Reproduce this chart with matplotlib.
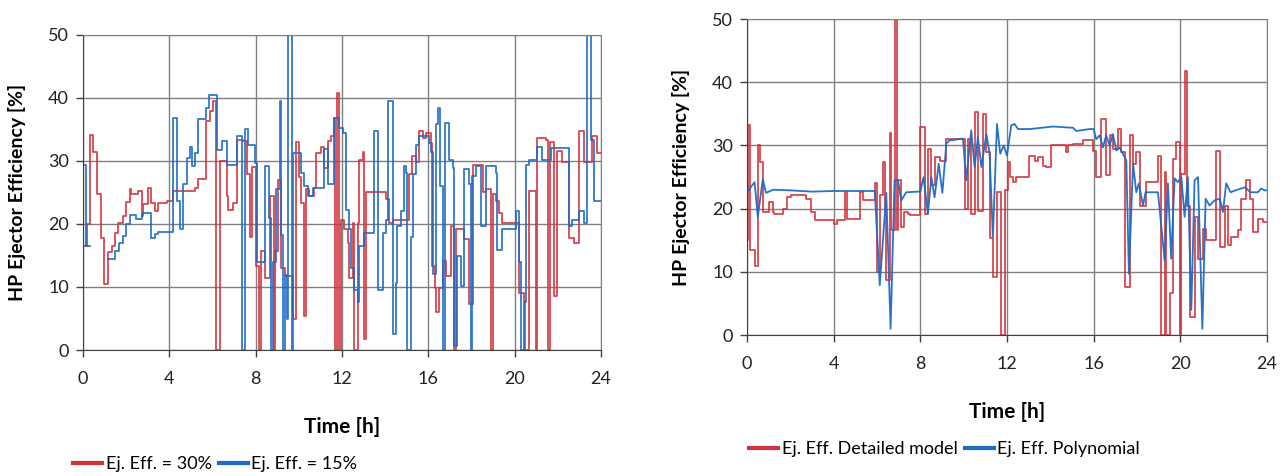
import numpy as np
import matplotlib.pyplot as plt
from matplotlib.lines import Line2D

plt.rcParams["font.family"] = ["Lato", "DejaVu Sans"]

RED = "#D2323C"
BLUE = "#1C6BC6"
GRID = "#808080"

# ── left panel: fixed ejector efficiency 30% vs 15% (step data) ──────────────
t_30 = [0.00, 0.19, 0.34, 0.46, 0.65, 0.85, 0.98, 1.16, 1.32, 1.47, 1.63, 1.86,
        1.97, 2.17, 2.24, 2.55, 2.71, 2.79, 3.02, 3.17, 3.33, 3.48, 3.87, 4.18,
        5.19, 5.34, 5.70, 5.88, 6.04, 6.16, 6.33, 6.66, 6.73, 6.97, 7.12, 7.43,
        7.59, 7.74, 7.82, 8.00, 8.15, 8.26, 8.42, 8.65, 8.83, 8.90, 9.03, 9.18,
        9.34, 9.72, 9.85, 10.03, 10.10, 10.26, 10.34, 10.49, 10.72, 10.80, 11.03,
        11.18, 11.34, 11.49, 11.65, 11.69, 11.75, 11.88, 11.95, 12.10, 12.26,
        12.34, 12.49, 12.57, 12.72, 12.80, 12.95, 13.03, 13.11, 14.03, 14.18,
        14.34, 15.10, 15.26, 15.42, 15.57, 15.74, 15.89, 16.12, 16.17, 16.32,
        16.35, 16.51, 16.66, 16.82, 17.05, 17.20, 17.28, 17.66, 17.89, 18.05,
        18.51, 18.66, 18.89, 19.00, 19.12, 19.28, 19.43, 20.20, 20.43, 20.48,
        20.66, 20.97, 21.05, 21.43, 21.55, 21.65, 21.82, 21.97, 22.20, 22.51,
        22.74, 22.97, 23.20, 23.58, 23.82, 24.00]
eff_30 = [16.5, 20.0, 34.2, 31.5, 24.8, 17.7, 10.5, 15.5, 16.5, 18.6, 20.2, 21.3,
          23.5, 25.5, 24.7, 25.2, 21.3, 23.1, 25.7, 23.3, 22.0, 23.3, 23.6, 25.2,
          25.7, 27.1, 36.3, 37.9, 39.5, 0.0, 30.0, 24.4, 22.3, 23.3, 33.4, 33.1,
          27.9, 18.0, 29.0, 13.4, 0.0, 15.7, 11.5, 24.4, 0.0, 15.7, 27.0, 13.0,
          11.7, 4.9, 33.0, 27.5, 23.4, 5.4, 25.5, 24.4, 25.7, 31.3, 32.3,
          28.9, 33.1, 33.9, 36.8, 0.0, 40.8, 0.0, 20.7, 19.2, 17.0,
          11.5, 20.2, 0.0, 20.2, 30.2, 31.5, 1.7, 25.0, 23.9, 20.2,
          20.7, 27.9, 30.8, 29.9, 34.7, 33.7, 34.4, 32.9, 13.3, 9.9,
          6.0, 9.9, 14.1, 11.8, 19.7, 0.0, 19.2, 17.6, 7.3, 29.4,
          25.0, 25.5, 0.0, 24.8, 23.7, 21.8, 20.2, 9.1, 7.7, 0.0,
          25.2, 0.0, 33.7, 33.4, 0.0, 33.0, 8.6, 31.6, 29.8, 17.8,
          17.0, 34.7, 29.8, 33.9, 31.3, 31.3]

t_15 = [0.00, 0.15, 0.34, 1.16, 1.47, 1.67, 1.83, 2.01, 2.17, 2.45, 2.71, 3.17,
        3.33, 3.48, 4.18, 4.37, 4.49, 4.64, 4.80, 4.95, 5.03, 5.19, 5.34, 5.70,
        5.85, 6.19, 6.42, 6.66, 7.12, 7.35, 7.51, 7.66, 7.97, 8.05, 8.45, 8.62,
        8.72, 8.80, 8.95, 9.11, 9.18, 9.25, 9.34, 9.45, 9.50, 9.68, 9.75,
        10.11, 10.26, 10.42, 10.65, 11.18, 11.34, 11.65, 11.88, 12.03, 12.18,
        12.34, 12.42, 12.57, 12.72, 12.80, 13.03, 13.49, 13.65, 13.88, 14.03,
        14.15, 14.34, 14.49, 14.57, 14.72, 14.88, 14.95, 15.03, 15.18, 15.30,
        15.42, 15.57, 16.05, 16.12, 16.20, 16.35, 16.46, 16.54, 16.66, 16.78,
        16.97, 17.12, 17.20, 17.35, 17.51, 17.66, 17.89, 17.97, 18.02, 18.20,
        18.43, 18.66, 19.12, 19.20, 19.43, 20.05, 20.20, 20.28, 20.43, 20.51,
        20.66, 21.05, 21.28, 21.66, 22.35, 22.51, 22.66, 22.97, 23.20, 23.35,
        23.52, 23.66, 24.00]
eff_15 = [29.4, 16.5, np.nan, 14.4, 15.7, 17.0, 18.1, 20.0, 21.5, 20.8, 21.8, 17.8,
          18.4, 18.7, 36.8, 23.6, 19.2, 26.3, 30.5, 32.3, 29.2, 31.3, 36.6, 38.4,
          40.5, 31.8, 33.1, 29.4, 33.9, 0.0, 35.0, 32.6, 29.7, 13.9, 29.2, 21.0,
          0.0, 14.0, 25.5, 39.5, 18.2, 0.0, 11.9, 4.9, 55.0, 0.0, 31.3,
          28.1, 26.0, 24.4, 25.7, 31.9, 26.3, 36.8, 35.3, 34.4, 22.3,
          19.2, 13.0, 9.6, 7.6, 16.5, 18.5, 34.7, 9.6, 18.5, 20.6,
          39.5, 2.6, 10.6, 19.7, 22.1, 29.2, 28.1, 0.0, 18.0, 28.0,
          32.6, 33.9, 32.9, 31.4, 12.0, 35.8, 38.4, 26.0, 0.0, 36.0,
          30.2, 28.9, 0.7, 14.9, 10.2, 28.7, 26.3, 0.0, 27.6, 29.2,
          19.7, 29.2, 28.1, 15.8, 19.2, 22.1, 13.9, 0.0, 7.6, 29.4,
          30.2, 32.3, 30.2, 32.1, 32.0, 19.7, 20.6, 22.1, 20.2, 55.0,
          33.4, 23.7, 23.7]

# ── right panel: detailed model (steps) vs polynomial fit (line) ─────────────
t_det = [0.00, 0.05, 0.15, 0.35, 0.50, 0.58, 0.73, 1.03, 1.19, 1.26, 1.64, 1.87,
         2.02, 2.71, 2.94, 3.16, 4.00, 4.15, 4.53, 4.61, 5.22, 5.37, 5.90, 5.98,
         6.13, 6.28, 6.36, 6.43, 6.59, 6.66, 6.84, 6.92, 6.97, 7.12, 7.27, 7.42,
         7.51, 7.97, 8.20, 8.35, 8.51, 8.66, 8.89, 9.20, 10.05, 10.20, 10.35,
         10.51, 10.66, 10.89, 11.05, 11.20, 11.35, 11.54, 11.74, 11.89, 12.05,
         12.12, 12.28, 12.43, 13.02, 13.28, 13.43, 13.66, 13.82, 14.05, 14.74,
         14.80, 15.05, 15.51, 15.97, 16.12, 16.35, 16.58, 16.74, 16.89, 17.12,
         17.28, 17.43, 17.66, 17.82, 17.97, 18.12, 18.43, 18.97, 19.12, 19.28,
         19.35, 19.51, 19.66, 19.82, 19.97, 20.05, 20.20, 20.31, 20.43, 20.66,
         20.82, 21.05, 21.20, 21.66, 21.82, 22.05, 22.20, 22.35, 22.66, 22.82,
         23.05, 23.20, 23.35, 23.58, 23.82, 24.00]
eff_det = [15.0, 33.2, 13.4, 11.0, 30.0, 27.4, 19.5, 21.0, 19.5, 19.2, 20.0, 21.8,
           22.1, 21.6, 19.5, 18.2, 17.6, 18.2, 22.6, 18.3, 22.6, 21.4, 24.0, 10.0,
           22.1, 27.4, 19.7, 8.7, 32.0, 16.6, 50.0, 16.6, 24.5, 17.1, 19.5, 19.2,
           19.0, 32.9, 19.2, 29.5, 23.7, 28.2, 27.6, 31.1, 20.0, 31.1, 19.2,
           35.3, 19.7, 35.0, 29.0, 15.3, 9.2, 22.6, 0.0, 22.9, 27.4,
           25.0, 24.2, 25.0, 28.4, 27.6, 28.2, 26.8, 26.6, 30.0, 28.9,
           30.0, 30.3, 30.8, 29.2, 25.0, 34.2, 25.3, 31.6, 29.5, 32.6,
           29.0, 7.6, 31.6, 27.1, 28.9, 20.5, 24.2, 28.4, 0.0, 25.8,
           0.0, 6.6, 27.9, 30.5, 0.0, 25.5, 41.8, 20.5, 2.9, 18.7,
           12.1, 16.8, 15.0, 29.2, 13.9, 20.5, 14.2, 15.5, 16.6, 21.6,
           24.5, 21.6, 16.3, 18.4, 17.9, 17.9]

t_poly = [0.00, 0.35, 0.50, 0.73, 0.88, 1.20, 2.00, 3.00, 4.00, 5.00, 5.90, 6.13,
          6.43, 6.63, 6.81, 6.97, 7.12, 7.35, 7.88, 8.00, 8.15, 8.35, 8.51, 8.66,
          8.85, 9.02, 9.20, 9.35, 9.97, 10.12, 10.35, 10.51, 10.66, 10.82, 11.05,
          11.20, 11.35, 11.54, 11.69, 11.85, 12.00, 12.20, 12.35, 12.51, 13.05,
          14.12, 15.05, 15.20, 15.82, 16.00, 16.12, 16.28, 16.43, 16.58, 16.74,
          16.89, 17.05, 17.20, 17.35, 17.51, 17.63, 17.82, 17.97, 18.09, 18.28,
          18.40, 18.97, 19.28, 19.43, 19.58, 19.74, 19.89, 20.05, 20.20, 20.35,
          20.51, 20.66, 20.82, 21.02, 21.17, 21.35, 21.58, 21.82, 21.97, 22.12,
          22.32, 22.55, 23.00, 23.23, 23.58, 23.74, 23.89, 24.00]
eff_poly = [22.6, 24.2, 18.7, 24.7, 22.5, 23.0, 22.9, 22.7, 22.8, 22.8, 22.8, 7.9,
            22.5, 1.0, 24.5, 24.5, 21.3, 22.6, 22.7, 22.7, 25.0, 19.2, 25.0, 21.8,
            27.1, 22.5, 30.3, 30.8, 31.1, 24.5, 32.4, 26.6, 31.3, 26.6, 31.8,
            28.7, 15.5, 33.4, 28.7, 30.0, 28.4, 33.2, 33.4, 32.6, 32.6,
            33.0, 32.8, 32.3, 32.6, 32.6, 31.0, 31.6, 29.7, 31.6, 30.0,
            31.8, 29.2, 29.7, 28.7, 27.6, 9.7, 27.1, 22.6, 24.0, 20.5,
            22.6, 22.6, 11.8, 24.0, 12.1, 24.8, 24.2, 25.0, 18.7, 25.0,
            4.0, 24.5, 25.0, 1.0, 21.6, 20.5, 21.3, 21.6, 19.5, 24.0,
            22.6, 22.9, 23.4, 22.6, 22.6, 23.2, 22.9, 22.9]


def style_axes(ax):
    ax.set_xlim(0, 24)
    ax.set_ylim(0, 50)
    ax.set_xticks(range(0, 25, 4))
    ax.set_yticks(range(0, 51, 10))
    ax.grid(True, color=GRID, lw=1.0)
    ax.set_axisbelow(True)
    for side in ("top", "right"):
        ax.spines[side].set_color(GRID)
    for side in ("left", "bottom"):
        ax.spines[side].set_color("#404040")
    ax.tick_params(direction="out", length=5, width=1, color="#404040",
                   labelcolor="#222222", labelsize=13)
    ax.tick_params(axis="x", pad=10)
    ax.tick_params(axis="y", pad=5)
    ax.set_xlabel("Time [h]", fontsize=15, fontweight="bold", labelpad=22)
    ax.set_ylabel("HP Ejector Efficiency [%]", fontsize=14, fontweight="bold",
                  labelpad=16)


fig = plt.figure(figsize=(12.87, 4.76), dpi=100)
ax1 = fig.add_axes([0.0645, 0.2647, 0.4025, 0.6618])
ax2 = fig.add_axes([0.5804, 0.296, 0.404, 0.6639])

ax1.plot(t_30, eff_30, drawstyle="steps-post", color=RED, lw=1.3, alpha=0.9)
ax1.plot(t_15, eff_15, drawstyle="steps-post", color=BLUE, lw=1.3, alpha=0.9)
style_axes(ax1)

ax2.plot(t_det, eff_det, drawstyle="steps-post", color=RED, lw=1.3, alpha=0.9)
ax2.plot(t_poly, eff_poly, color=BLUE, lw=1.3, alpha=0.95)
style_axes(ax2)

# legends sit below each panel
h_red = Line2D([], [], color=RED, lw=3)
h_blue = Line2D([], [], color=BLUE, lw=3)
leg_kw = dict(ncol=2, frameon=False, fontsize=13, handlelength=1.6,
              handletextpad=0.2, columnspacing=0.4, borderaxespad=0,
              loc="center left")
fig.legend([h_red, h_blue], ["Ej. Eff. = 30%", "Ej. Eff. = 15%"],
           bbox_to_anchor=(66 / 1287, 1 - 464 / 476), **leg_kw)
fig.legend([h_red, h_blue], ["Ej. Eff. Detailed model", "Ej. Eff. Polynomial"],
           bbox_to_anchor=(742 / 1287, 1 - 449 / 476), **leg_kw)

fig.savefig("out.png", dpi=100)
